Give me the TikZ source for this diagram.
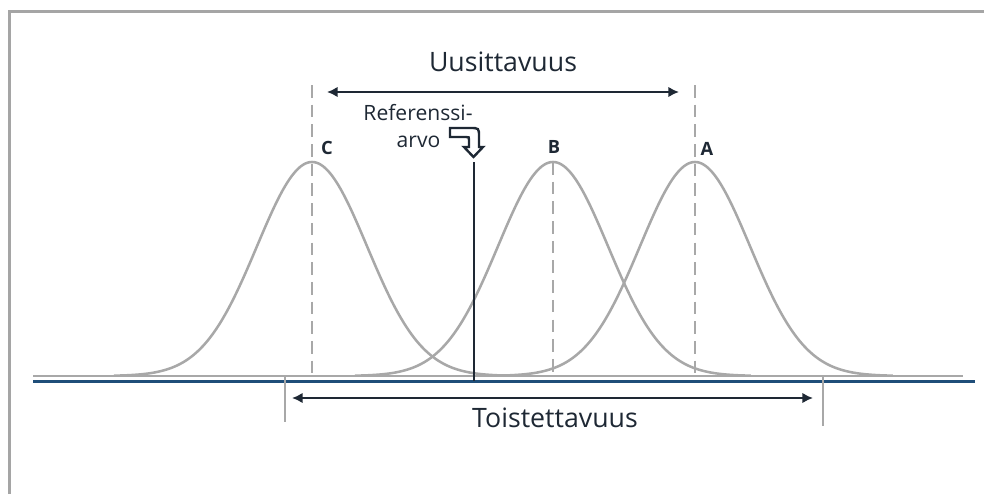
\documentclass[tikz,border=0pt]{standalone}
\usepackage{fontspec}
\setmainfont{Open Sans}
\usetikzlibrary{arrows.meta}
\definecolor{curveGray}{RGB}{168,168,168}
\definecolor{frameGray}{RGB}{165,165,165}
\definecolor{axisBlue}{RGB}{31,78,121}
\definecolor{darkText}{RGB}{30,40,52}
\tikzset{
    bellcurve/.style={draw=curveGray, line width=1.8pt, smooth},
    peakline/.style={draw=curveGray, line width=2.1pt, dash pattern=on 9pt off 5pt},
    baseline/.style={draw=curveGray, line width=1.9pt},
    axisline/.style={draw=axisBlue, line width=1.5pt},
    bracketline/.style={draw=curveGray, line width=1.4pt},
    refline/.style={draw=darkText, line width=1.7pt},
    spanarrow/.style={{Latex[length=7.5pt,width=7.5pt]}-{Latex[length=7.5pt,width=7.5pt]}, line width=1.9pt, draw=darkText},
    bendarrow/.style={draw=darkText, line width=1.7pt, line join=miter},
    bigtext/.style={font=\fontsize{19}{23}\selectfont, text=darkText},
    smalltext/.style={font=\fontsize{15}{19}\selectfont, text=darkText, anchor=base},
    peaklabel/.style={font=\fontsize{13}{15}\selectfont\bfseries, text=darkText}
}

\begin{document}
\begin{tikzpicture}[x=0.025cm,y=-0.025cm]
    \useasboundingbox (0,0) rectangle (984,494);
    \draw[frameGray, line width=2.2pt] (9.5,494) -- (9.5,11.5) -- (984,11.5);

    % kolme jakaumaa
    \foreach \mu/\top/\lbl/\lx/\ly in {312/85/C/327/148, 553/162/B/554/147, 695/85/A/707/149} {
        \draw[bellcurve] plot[domain=-3.6:3.6, samples=90] ({\mu+55*\x},{376-214*exp(-0.5*\x*\x)});
        \draw[peakline] (\mu,\top) -- (\mu,376);
        \node[peaklabel] (lbl\lbl) at (\lx,\ly) {\lbl};
    }

    \draw[baseline] (33,376) -- (963,376);
    \draw[axisline] (33,381.5) -- (975,381.5);
    \draw[bracketline] (285,376) -- (285,422);
    \draw[bracketline] (823,376) -- (823,426);

    % uusittavuus
    \node[bigtext] (uusi) at (503,62) {Uusittavuus};
    \coordinate (uusiL) at (327,92);
    \coordinate (uusiR) at (679,92);
    \draw[spanarrow] (uusiL) -- (uusiR);

    % toistettavuus
    \node[bigtext] (toisto) at (555,418) {Toistettavuus};
    \coordinate (toistoL) at (292,398);
    \coordinate (toistoR) at (813,398);
    \draw[spanarrow] (toistoL) -- (toistoR);

    % referenssiarvo
    \node[smalltext] (ref) at (418,120) {Referenssi-};
    \node[smalltext] (refb) at (418.5,147) {arvo};
    \coordinate (refTop) at (474,162);
    \coordinate (refBot) at (474,381);
    \draw[refline] (refTop) -- (refBot);
    \draw[bendarrow] (450,128) -- (470,128) .. controls (479,128) .. (479,137) -- (479,147) -- (483,147)
        -- (473.5,157) -- (464,147) -- (469,147) -- (469,140) .. controls (469,137) .. (466,137) -- (450,137) -- cycle;
\end{tikzpicture}
\end{document}
